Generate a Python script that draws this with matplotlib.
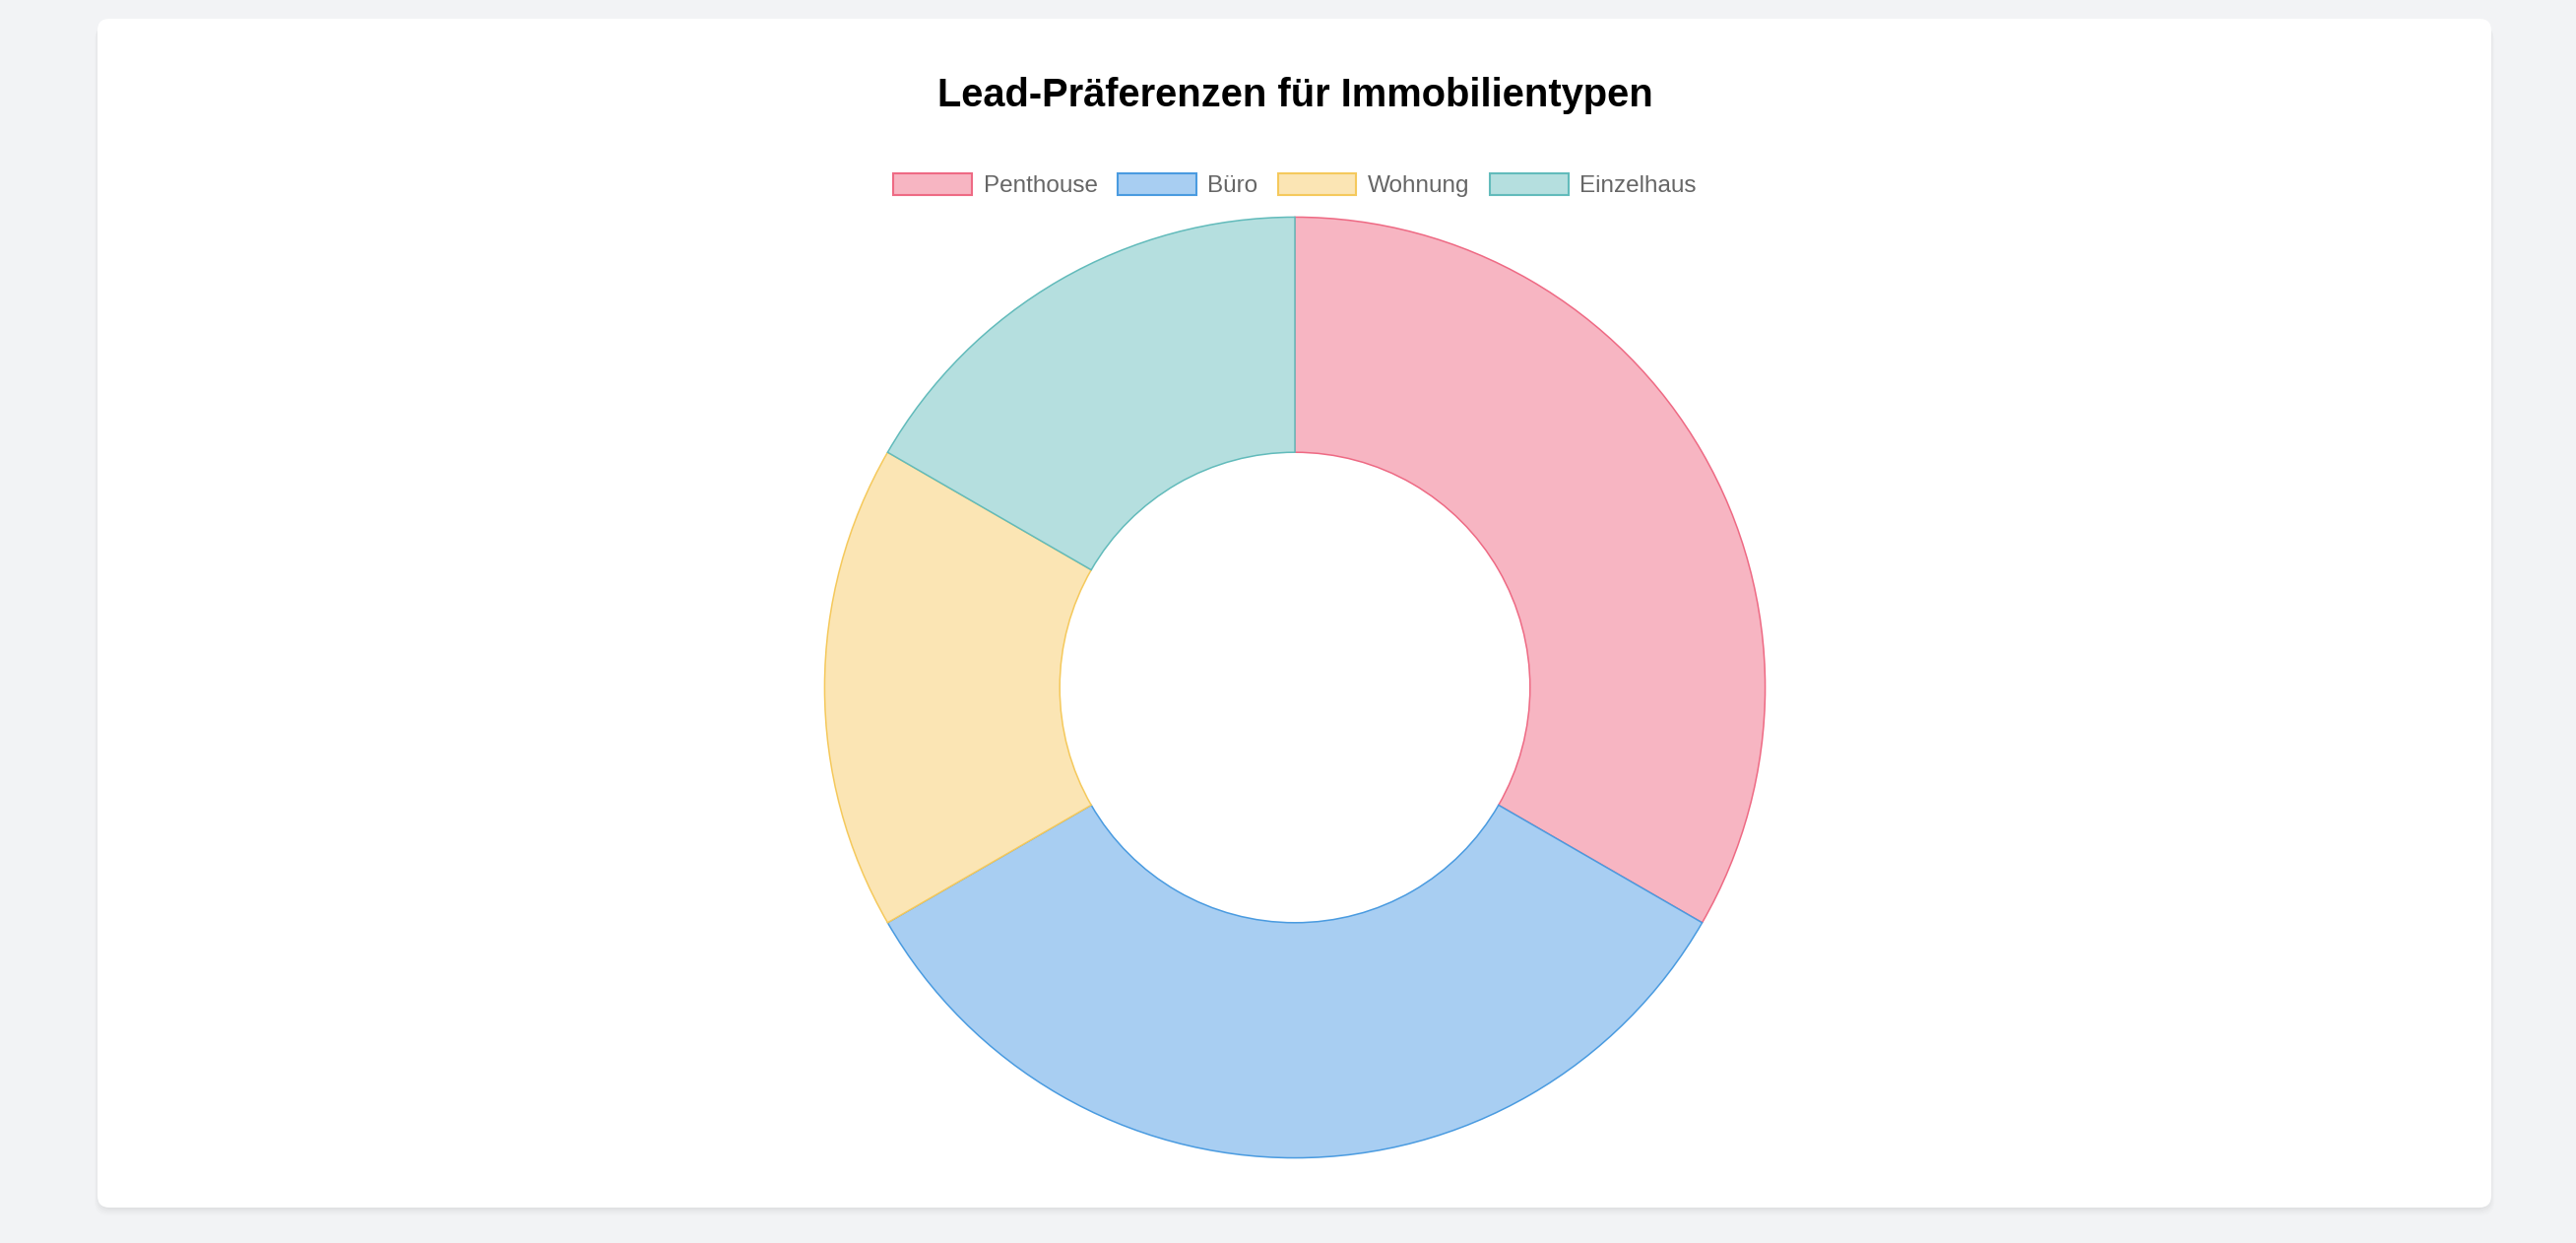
import matplotlib
matplotlib.use("Agg")
import matplotlib.pyplot as plt
from matplotlib.patches import FancyBboxPatch, Patch

categories = ["Penthouse", "Büro", "Wohnung", "Einzelhaus"]
values = [2, 2, 1, 1]
fill_colors = ["#F7B5C2", "#A8CEF2", "#FBE5B4", "#B5DFDF"]
edge_colors = ["#EE6A84", "#4A9BE0", "#F5C95C", "#62BBBB"]
title = "Lead-Präferenzen für Immobilientypen"

W, H = 2616, 1262
fig = plt.figure(figsize=(W / 100, H / 100), dpi=100)
fig.patch.set_facecolor("#F2F3F5")

# card with shadow
for i, a in enumerate([0.025, 0.02, 0.015, 0.01]):
    off = 2 + i * 2
    sh = FancyBboxPatch((99 - i, H - 1226 - off), 2530 - 99 + 2 * i, 1226 - 19,
                        boxstyle="round,pad=0,rounding_size=14",
                        transform=None, facecolor="black", alpha=a,
                        edgecolor="none", zorder=0)
    fig.patches.append(sh)
card = FancyBboxPatch((99, H - 1226), 2530 - 99, 1226 - 19,
                      boxstyle="round,pad=0,rounding_size=12",
                      transform=None, facecolor="white", edgecolor="none", zorder=1)
fig.patches.append(card)

cx, cy, R = 1315, 698, 479
ax = fig.add_axes([(cx - R) / W, (H - cy - R) / H, 2 * R / W, 2 * R / H])
ax.set_zorder(2)
wedges, _ = ax.pie(values, radius=1, startangle=90, counterclock=False,
                   colors=fill_colors,
                   wedgeprops=dict(width=0.5, linewidth=1.1))
for w, ec in zip(wedges, edge_colors):
    w.set_edgecolor(ec)
ax.set_xlim(-1.003, 1.003)
ax.set_ylim(-1.003, 1.003)
ax.set_aspect("auto")
ax.axis("off")

fig.text(cx / W, 1 - 97 / H, title, ha="center", va="center",
         fontsize=28.7, fontweight="bold", family="Liberation Sans", color="black", zorder=3)

fs = 17.5
handles = [Patch(facecolor=f, edgecolor=e, linewidth=1.5, label=c)
           for c, f, e in zip(categories, fill_colors, edge_colors)]
leg = fig.legend(handles=handles, loc="center", bbox_to_anchor=(cx / W, 1 - 188 / H),
                 ncol=4, frameon=False,
                 prop={"family": "Liberation Sans", "size": fs},
                 handlelength=3.29, handleheight=1.03, handletextpad=0.48,
                 columnspacing=0.82, borderaxespad=0, borderpad=0)
for t in leg.get_texts():
    t.set_color("#666666")

fig.savefig("out.png", dpi=100)
